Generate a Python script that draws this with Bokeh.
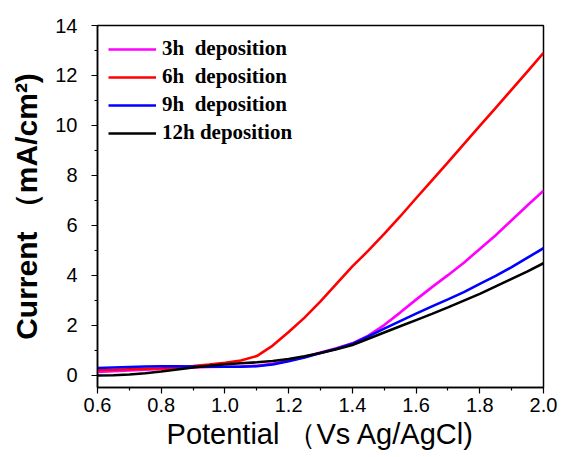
from bokeh.plotting import figure
from bokeh.models import FixedTicker, Range1d, Legend, LegendItem
from bokeh.embed import file_html
from bokeh.resources import INLINE

potential = [0.60, 0.65, 0.70, 0.75, 0.80, 0.85, 0.90, 0.95, 1.00, 1.05,
             1.10, 1.15, 1.20, 1.25, 1.30, 1.35, 1.40, 1.45, 1.50, 1.55,
             1.60, 1.65, 1.70, 1.75, 1.80, 1.85, 1.90, 1.95, 2.00]

cur_3h = [0.12, 0.15, 0.18, 0.21, 0.24, 0.27, 0.30, 0.32, 0.33, 0.34,
          0.37, 0.45, 0.57, 0.72, 0.90, 1.07, 1.27, 1.58, 2.00, 2.50,
          3.02, 3.52, 4.00, 4.50, 5.05, 5.60, 6.20, 6.80, 7.38]

cur_6h = [0.20, 0.21, 0.23, 0.25, 0.27, 0.31, 0.36, 0.42, 0.49, 0.58,
          0.76, 1.18, 1.72, 2.30, 2.95, 3.65, 4.35, 4.98, 5.65, 6.35,
          7.08, 7.80, 8.52, 9.25, 9.98, 10.70, 11.43, 12.16, 12.90]

cur_9h = [0.28, 0.30, 0.32, 0.34, 0.35, 0.35, 0.34, 0.33, 0.33, 0.33,
          0.35, 0.42, 0.55, 0.70, 0.88, 1.05, 1.25, 1.55, 1.86, 2.16,
          2.46, 2.75, 3.03, 3.32, 3.65, 3.97, 4.32, 4.70, 5.08]

cur_12h = [-0.02, -0.01, 0.02, 0.07, 0.14, 0.22, 0.30, 0.37, 0.43, 0.47,
           0.51, 0.56, 0.64, 0.75, 0.88, 1.03, 1.20, 1.45, 1.70, 1.95,
           2.20, 2.45, 2.71, 2.98, 3.25, 3.55, 3.85, 4.15, 4.48]

series_labels = ["3h  deposition", "6h  deposition", "9h  deposition", "12h deposition"]
series_colors = ["#ff00ff", "#ff0000", "#0000ff", "#000000"]
x_ticks = [0.6, 0.8, 1.0, 1.2, 1.4, 1.6, 1.8, 2.0]
y_ticks = [0, 2, 4, 6, 8, 10, 12, 14]
x_minor = [0.7, 0.9, 1.1, 1.3, 1.5, 1.7, 1.9]
y_minor = [1, 3, 5, 7, 9, 11, 13]

p = figure(width=563, height=457, output_backend="svg", toolbar_location=None,
           x_range=Range1d(0.6, 2.0), y_range=Range1d(-0.5, 14.0),
           min_border_left=97, min_border_right=20, min_border_top=25, min_border_bottom=70)
p.background_fill_color = "white"
p.border_fill_color = "white"
p.grid.visible = False
p.outline_line_color = "black"
p.outline_line_width = 1.5

renderers = []
for ys, c in zip([cur_3h, cur_6h, cur_9h, cur_12h], series_colors):
    r = p.line(potential, ys, line_color=c, line_width=2.6)
    renderers.append(r)

legend = Legend(items=[LegendItem(label=l, renderers=[r]) for l, r in zip(series_labels, renderers)],
                location="top_left")
legend.margin = 0
legend.padding = 11
legend.spacing = 3
legend.label_height = 24
legend.glyph_height = 24
legend.glyph_width = 48
legend.label_standoff = 6
legend.border_line_alpha = 0
legend.background_fill_alpha = 0
legend.label_text_font = "Liberation Serif"
legend.label_text_font_style = "bold"
legend.label_text_font_size = "21px"
legend.label_text_color = "black"
p.add_layout(legend)

p.xaxis.ticker = FixedTicker(ticks=x_ticks, minor_ticks=x_minor)
p.yaxis.ticker = FixedTicker(ticks=y_ticks, minor_ticks=y_minor)
p.xaxis.major_label_overrides = {v: f"{v:.1f}" for v in x_ticks}

for ax in [p.xaxis[0], p.yaxis[0]]:
    ax.axis_line_width = 1.5
    ax.axis_line_color = "black"
    ax.major_tick_line_color = "black"
    ax.minor_tick_line_color = "black"
    ax.major_tick_line_width = 1.2
    ax.minor_tick_line_width = 1.2
    ax.major_tick_in = 0
    ax.major_tick_out = 6
    ax.minor_tick_in = 0
    ax.minor_tick_out = 3
    ax.major_label_text_font = "Liberation Sans"
    ax.major_label_text_font_size = "20px"
    ax.major_label_text_color = "black"
    ax.axis_label_text_font = "Liberation Sans"
    ax.axis_label_text_color = "black"

p.xaxis.major_label_standoff = 4
p.yaxis.major_label_standoff = 14
p.xaxis.axis_label = "Potential （Vs Ag/AgCl)"
p.xaxis.axis_label_text_font_size = "29px"
p.xaxis.axis_label_text_font_style = "normal"
p.xaxis.axis_label_standoff = 3
p.yaxis.axis_label = "Current （mA/cm²)"
p.yaxis.axis_label_text_font_size = "30px"
p.yaxis.axis_label_text_font_style = "bold"
p.yaxis.axis_label_standoff = 9

open("out.html", "w").write(file_html(p, INLINE))
